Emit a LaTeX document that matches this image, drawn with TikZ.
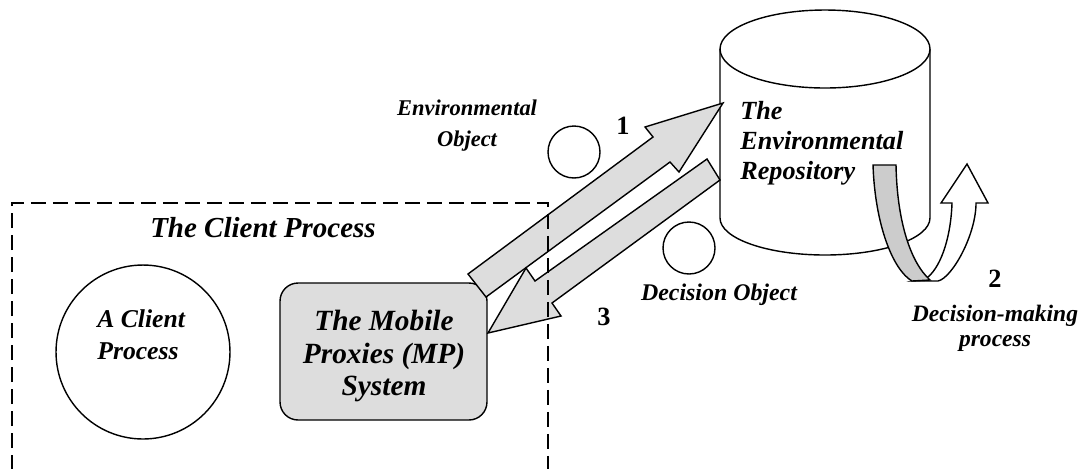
\documentclass[tikz,border=0pt]{standalone}
\usepackage{fontspec}
\setmainfont{Liberation Serif}
\definecolor{arrowgray}{RGB}{221,221,221}
\definecolor{boxgray}{RGB}{221,221,221}
\definecolor{bandgray}{RGB}{204,204,204}
\begin{document}
\begin{tikzpicture}[x=0.02cm,y=-0.02cm,
  outline/.style={draw=black,line width=0.8pt,line join=miter},
  blockarrow/.style={outline,fill=arrowgray},
  dashbox/.style={draw=black,line width=1.1pt,dash pattern=on 0.3cm off 0.14cm},
  lbl/.style={inner sep=0pt,text=black},
  bi/.style={font=\fontsize{#1pt}{#1pt}\selectfont\bfseries\itshape},
  num/.style={lbl,font=\fontsize{15pt}{18pt}\selectfont\bfseries}]
\useasboundingbox (0,0) rectangle (1087,468);

% the repository drum
\draw[outline,fill=white] (720,49) -- (720,218)
  arc[start angle=180,end angle=360,x radius=2.1cm,y radius=0.74cm] -- (930,49);
\draw[outline,fill=white] (825,49) ellipse[x radius=2.1cm,y radius=0.78cm];
\coordinate (drum) at (825,130);

% decision-making loop: white back ribbon with head, grey front ribbon
\draw[outline,fill=white] (912,281) -- (938,281)
  .. controls (952,278) and (976,235) .. (976,203) -- (988,203) -- (967,164)
  -- (941,203) -- (952,203) .. controls (951,235) and (942,265) .. (928,277) -- cycle;
\draw[outline,fill=bandgray] (873,165) -- (896,165)
  .. controls (897,220) and (910,262) .. (930,280) -- (912,281)
  .. controls (893,270) and (875,225) .. (873,165) -- cycle;

% objects travelling between the proxies and the repository
\node[circle,outline,minimum size=1.04cm,inner sep=0pt] (envobj) at (574,152) {};
\node[circle,outline,minimum size=1.04cm,inner sep=0pt] (decobj) at (689,248) {};

% client process and the proxy system
\node[circle,outline,minimum size=3.48cm,inner sep=0pt] (client) at (143,352) {};
\node[rectangle,rounded corners=0.36cm,outline,fill=boxgray,
      minimum width=4.14cm,minimum height=2.74cm,inner sep=0pt] (mp) at (383.5,351.5) {};

% block arrows 1 (to the repository) and 3 (back to the proxies)
\draw[blockarrow] (468,274) -- (653,137) -- (645,127) -- (723,103)
  -- (679,172) -- (670,162) -- (486,297) -- cycle;
\draw[blockarrow] (707,159) -- (720,180) -- (552,303) -- (561,316)
  -- (488,333) -- (526,268) -- (535,281) -- cycle;

% client process boundary
\draw[dashbox] (12,470) -- (12,203) -- (548,203) -- (548,470);

% labels
\node[lbl,bi=16.5] (title) at (263,228) {The Client Process};
\node[lbl,align=left,anchor=west,
      font=\fontsize{14.6pt}{18.2pt}\selectfont\bfseries\itshape] (clientlbl) at (97,335) {A Client\\Process};
\node[lbl,align=center,font=\fontsize{16.7pt}{18.5pt}\selectfont\bfseries\itshape]
  (mplbl) at (384,356) {The Mobile\\Proxies (MP)\\System};
\node[lbl,align=center,font=\fontsize{12.8pt}{17.6pt}\selectfont\bfseries\itshape]
  (envlbl) at (467,126) {Environmental\\Object};
\node[lbl,align=left,anchor=west,font=\fontsize{14.9pt}{17.1pt}\selectfont\bfseries\itshape]
  (repolbl) at (740,143) {The\\Environmental\\Repository};
\node[lbl,bi=13.6] (declbl) at (719,295) {Decision Object};
\node[lbl,align=center,font=\fontsize{13.4pt}{14.2pt}\selectfont\bfseries\itshape]
  (dmlbl) at (995,328) {Decision-making\\process};
\node[num] (n1) at (623,126) {1};
\node[num] (n3) at (604,317) {3};
\node[num] (n2) at (995,279) {2};
\end{tikzpicture}
\end{document}
